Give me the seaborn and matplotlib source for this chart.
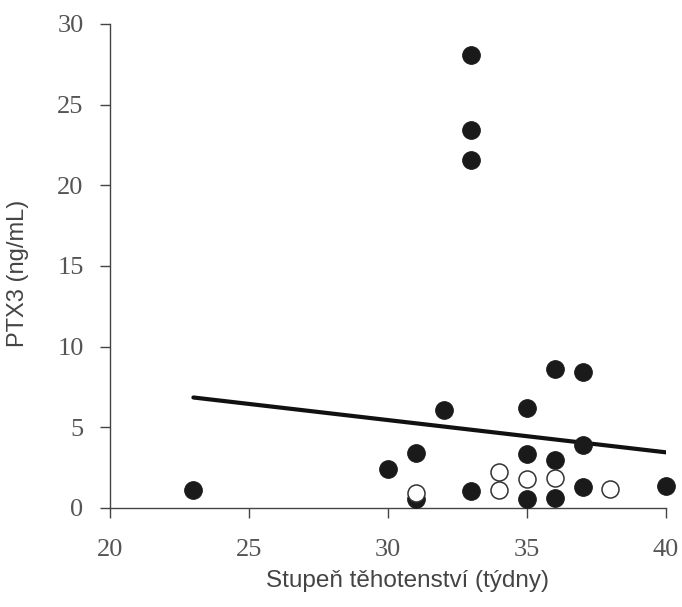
import matplotlib
matplotlib.use("Agg")
import matplotlib.pyplot as plt
import seaborn as sns
import pandas as pd

# Data
filled_x = [23, 33, 33, 33, 33, 30, 31, 31, 32, 35, 35, 35, 36, 36, 36, 37, 37, 37, 40]
filled_y = [1.1, 28.1, 23.4, 21.6, 1.05, 2.4, 3.4, 0.55, 6.1, 6.2, 3.35, 0.55, 8.6, 3.0, 0.65, 8.45, 3.9, 1.3, 1.35]
open_x = [31, 34, 34, 35, 36, 38]
open_y = [0.9, 2.25, 1.1, 1.8, 1.85, 1.15]
line_x = [23, 40]
line_y = [6.85, 3.45]
xticks = [20, 25, 30, 35, 40]
yticks = [0, 5, 10, 15, 20, 25, 30]

sns.set_style("white")
plt.rcParams['font.family'] = ['DejaVu Sans']

fig = plt.figure(figsize=(6.82, 6.07), dpi=100)
ax = fig.add_axes([110/682, 99/607, (666-110)/682, (508-24)/607])

df_f = pd.DataFrame({"x": filled_x, "y": filled_y})
df_o = pd.DataFrame({"x": open_x, "y": open_y})
df_l = pd.DataFrame({"x": line_x, "y": line_y})

sns.lineplot(data=df_l, x="x", y="y", ax=ax, color="#111111", linewidth=3.0, zorder=2)
sns.scatterplot(data=df_f, x="x", y="y", ax=ax, s=160, color="#1a1a1a",
                edgecolor="#1a1a1a", linewidth=0.8, zorder=3, clip_on=False)
sns.scatterplot(data=df_o, x="x", y="y", ax=ax, s=150, facecolor="white",
                edgecolor="#333333", linewidth=1.1, zorder=4, clip_on=False)

ax.set_xlim(20, 40)
ax.set_ylim(0, 30)
ax.set_xticks(xticks)
ax.set_yticks(yticks)
serif = ['Liberation Serif', 'DejaVu Serif']
ax.set_xticklabels([str(t) for t in xticks], family=serif, fontsize=19, color="#555555")
ax.set_yticklabels([str(t) for t in yticks], family=serif, fontsize=19, color="#555555")
ax.tick_params(axis='x', direction='out', length=7, width=1, color="#444444", pad=15, bottom=True)
ax.tick_params(axis='y', direction='out', length=7, width=1, color="#444444", pad=12, left=True)
for s in ["top", "right"]:
    ax.spines[s].set_visible(False)
for s in ["left", "bottom"]:
    ax.spines[s].set_color("#444444")
    ax.spines[s].set_linewidth(1.0)

sans = ['Liberation Sans', 'DejaVu Sans']
ax.set_xlabel("Stupeň těhotenství (týdny)", family=sans, fontsize=17.5, color="#444444")
ax.set_ylabel("PTX3 (ng/mL)", family=sans, fontsize=17, color="#444444")
ax.xaxis.set_label_coords((407-110)/556, -(581-508)/484, transform=ax.transAxes)
ax.xaxis.label.set_va('center')
ax.yaxis.set_label_coords(-(110-18)/556, (508-273)/484, transform=ax.transAxes)
ax.yaxis.label.set_va('center')

fig.savefig("out.png", dpi=100)
